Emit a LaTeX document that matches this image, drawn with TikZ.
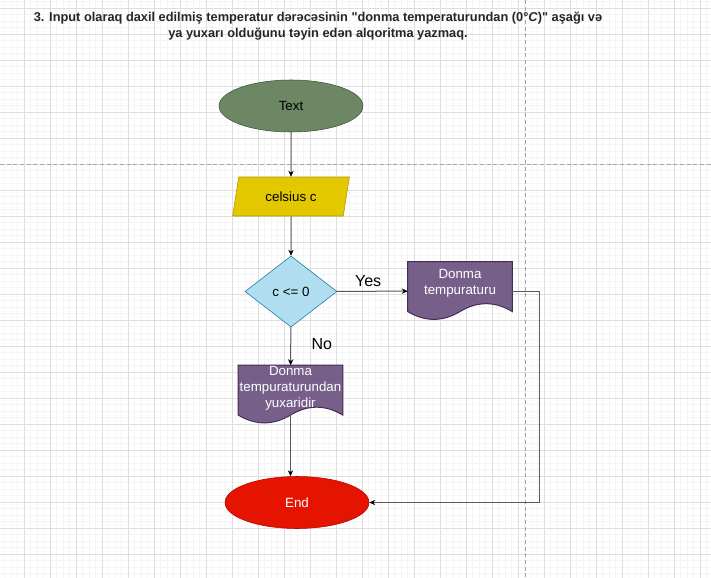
\documentclass[tikz,border=0pt]{standalone}
\usepackage{fontspec}
\setmainfont{Liberation Sans}
\newfontfamily\quotefont{Liberation Sans}
\usetikzlibrary{shapes.geometric,arrows.meta,calc,positioning}

\definecolor{termgreen}{HTML}{6D8764}
\definecolor{termgreenline}{HTML}{3A5431}
\definecolor{inyellow}{HTML}{E3C800}
\definecolor{inyellowline}{HTML}{B09500}
\definecolor{decblue}{HTML}{B1DDF0}
\definecolor{decblueline}{HTML}{10739E}
\definecolor{docpurple}{HTML}{76608A}
\definecolor{docpurpleline}{HTML}{432D57}
\definecolor{endred}{HTML}{E51400}
\definecolor{endredline}{HTML}{B20000}

\newcommand{\dq}{{\quotefont\bfseries"}}

% document shape with a wavy bottom, drawn over an empty box node
\newcommand{\docfill}[1]{%
  \filldraw[docshape] (#1.north west) -- (#1.north east)
    -- ($(#1.south east)+(0,-8.7)$)
    .. controls ($(#1.south west)!0.8333!(#1.south east)+(0,-19.2)$)
           and ($(#1.south west)!0.6667!(#1.south east)+(0,-19.2)$) .. ($(#1.south)+(0,-8.7)$)
    .. controls ($(#1.south west)!0.3333!(#1.south east)+(0,1.7)$)
           and ($(#1.south west)!0.1667!(#1.south east)+(0,1.7)$) .. ($(#1.south west)+(0,-8.7)$)
    -- cycle;}

\begin{document}
\begin{tikzpicture}[x=0.75pt, y=-0.75pt,
  every node/.style={font=\fontsize{10}{12}\selectfont},
  arr/.style={draw=black!65, line width=0.75pt, -{Stealth[length=4.5pt,width=4pt,black]}},
  gridminor/.style={draw=black!4, line width=0.75pt},
  gridmajor/.style={draw=black!13, line width=0.75pt},
  pagebreak/.style={draw=black!35, line width=0.75pt, dash pattern=on 3pt off 2pt},
  terminal/.style={ellipse, inner sep=0pt, minimum width=108pt, minimum height=39pt},
  inbox/.style={trapezium, trapezium left angle=73, trapezium right angle=107,
    trapezium stretches=true, inner sep=0pt, minimum width=87.75pt, minimum height=29.25pt,
    fill=inyellow, draw=inyellowline},
  decbox/.style={diamond, inner sep=0pt, minimum width=69pt, minimum height=53.25pt,
    fill=decblue, draw=decblueline},
  docbox/.style={rectangle, inner sep=0pt, minimum width=78pt, minimum height=43.5pt},
  docshape/.style={fill=docpurple, draw=docpurpleline, line width=0.75pt},
  doctext/.style={text=white, align=center},
  lbl/.style={font=\fontsize{12}{14}\selectfont}]

  \useasboundingbox (0,0) rectangle (711,578);
  \fill[white] (0,0) rectangle (711,578);
  % grid of the page
  \foreach \gx in {4.8,11.3,...,711} \draw[gridminor] (\gx,0) -- (\gx,578);
  \foreach \gy in {1.8,8.3,...,578} \draw[gridminor] (0,\gy) -- (711,\gy);
  \foreach \gx in {24.3,50.3,...,711} \draw[gridmajor] (\gx,0) -- (\gx,578);
  \foreach \gy in {8.3,34.3,...,578} \draw[gridmajor] (0,\gy) -- (711,\gy);
  \draw[pagebreak] (525,0) -- (525,578);
  \draw[pagebreak] (0,164) -- (711,164);

  % title
  \node[font=\bfseries\fontsize{9.6}{12}\selectfont, align=center, text=black!85] (title) at (318,26.5)
    {3. Input olaraq daxil edilmiş temperatur dərəcəsinin \dq donma temperaturundan (0°\textit{C})\dq\ aşağı və\\
     ya yuxarı olduğunu təyin edən alqoritma yazmaq.};

  % nodes
  \node[terminal, fill=termgreen, draw=termgreenline] (start) at (291,106) {Text};
  \node[inbox] (inp) at (291,196.5) {celsius c};
  \node[decbox] (cond) at (291,291.5) {c <= 0};
  \node[docbox] (dyes) at (460,291) {};
  \docfill{dyes}
  \node[doctext] (dyes-t) at (460,283) {Donma\\tempuraturu};
  \node[docbox] (dno) at (290.5,394.5) {};
  \docfill{dno}
  \node[doctext] (dno-t) at (290.5,388) {Donma\\tempuraturundan\\yuxaridir};
  \node[terminal, fill=endred, draw=endredline, text=white] (stop) at (297,502.5) {End};

  % edges
  \draw[arr] (start) -- (inp);
  \draw[arr] (inp) -- (cond);
  \draw[arr] (cond) -- node[lbl, above, pos=0.44] {Yes} (dyes);
  \draw[arr] (cond) -- node[lbl, right=12pt, pos=0.44] {No} (dno);
  \draw[arr] ([yshift=6.5pt]dno.south) -- (dno.south |- stop.north);
  \coordinate (turn) at (539,502.5);
  \draw[arr] (dyes) -| (turn) -- (stop);
\end{tikzpicture}
\end{document}
